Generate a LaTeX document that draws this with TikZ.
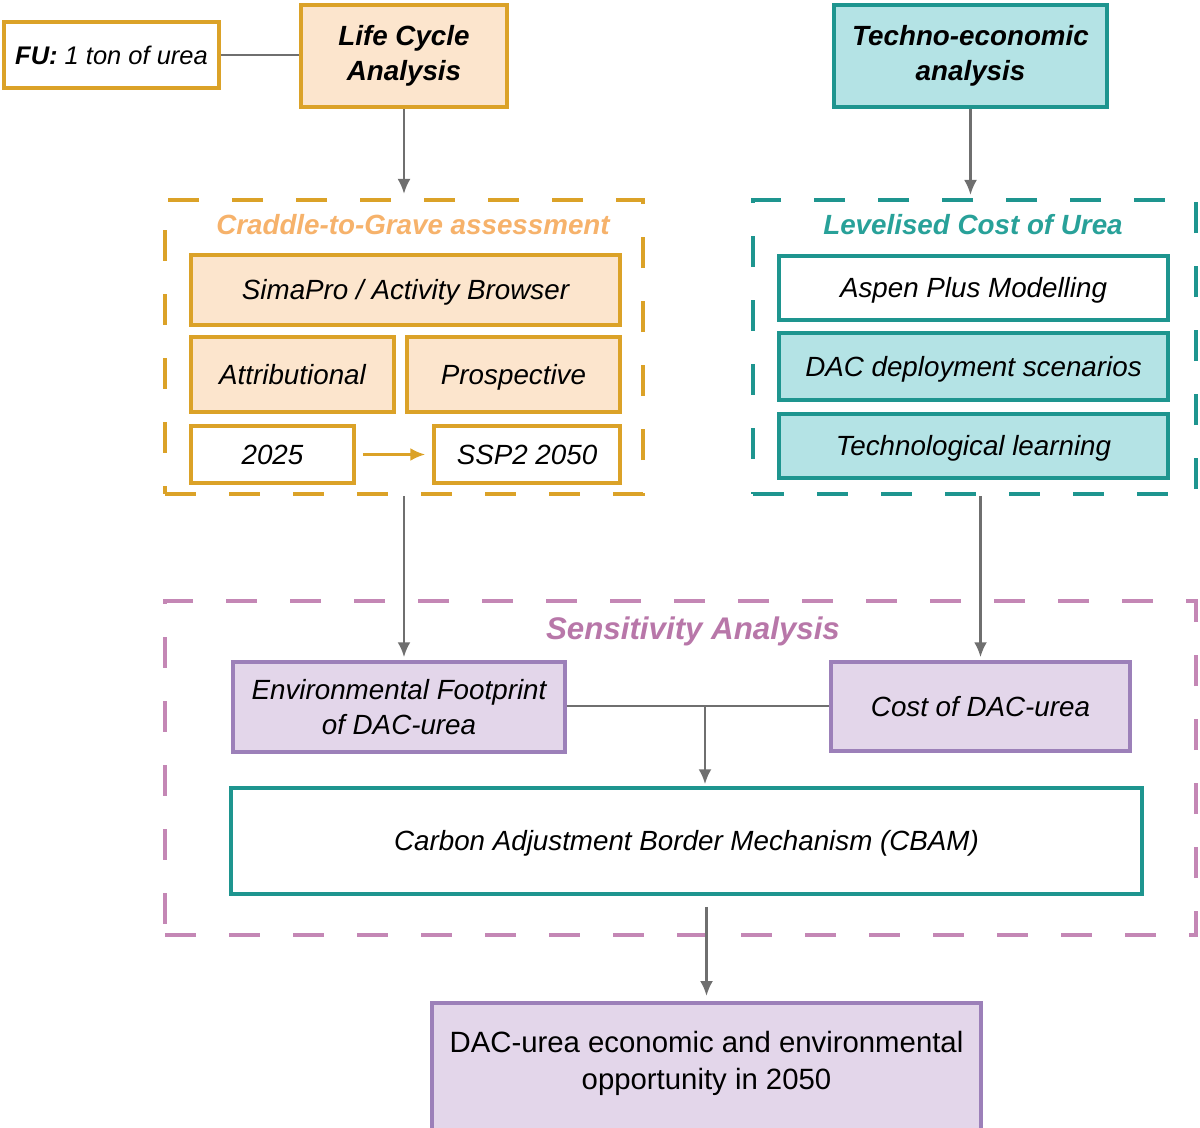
\documentclass[tikz,border=0pt]{standalone}
\usepackage{fontspec}
\setmainfont{Liberation Sans}
\usepackage{xcolor}
\usetikzlibrary{positioning,calc,arrows.meta}

\definecolor{lcaline}{HTML}{DBA228}
\definecolor{lcafill}{HTML}{FCE5CD}
\definecolor{lcatitle}{HTML}{F6B26B}
\definecolor{tealline}{HTML}{1E958F}
\definecolor{tealfill}{HTML}{B4E3E5}
\definecolor{tealtitle}{HTML}{28A199}
\definecolor{purpleline}{HTML}{9C80B9}
\definecolor{purplefill}{HTML}{E3D6EA}
\definecolor{sensline}{HTML}{C487B5}
\definecolor{senstitle}{HTML}{B877A9}
\definecolor{arrowgray}{HTML}{6F6F6F}

\newcommand{\boxfont}{\fontsize{15.8pt}{20pt}\selectfont}

\begin{document}
\begin{tikzpicture}[
    scale=1,
    lcabox/.style={draw=lcaline, fill=lcafill, line width=2pt, inner sep=1pt, align=center, font=\boxfont\itshape},
    lcawhite/.style={lcabox, fill=white},
    teabox/.style={draw=tealline, fill=tealfill, line width=2pt, inner sep=1pt, align=center, font=\boxfont\itshape},
    teawhite/.style={teabox, fill=white},
    purplebox/.style={draw=purpleline, fill=purplefill, line width=2pt, inner sep=1pt, align=center, font=\boxfont\itshape},
    single/.style={text height=12pt, text depth=0.7pt},
    frame/.style={line width=2.3pt, dash pattern=on 0.62cm off 0.66cm, minimum width=#1},
    frametitle/.style={font=\boxfont\bfseries\itshape},
    flow/.style={draw=arrowgray, line width=1.5pt, -{Latex[length=0.3cm,width=0.26cm]}},
    link/.style={draw=arrowgray, line width=1.5pt}
]
    \useasboundingbox (0,0) rectangle (24,-22.54);

    % LCA branch
    \node[lcawhite, single, minimum width=4.30cm, minimum height=1.32cm, font=\fontsize{14.5pt}{18pt}\selectfont\itshape] (fu) at (2.23,-1.10) {\textbf{FU:} 1 ton of urea};
    \node[lcabox, minimum width=4.12cm, minimum height=2.04cm, font=\boxfont\bfseries\itshape] (lca) at (8.08,-1.12) {Life Cycle\\Analysis};
    \node[frame=9.56cm, draw=lcaline, minimum height=5.88cm] (craddle) at (8.08,-6.94) {};
    \node[frametitle, single, text=lcatitle] (craddletitle) at (8.26,-4.50) {Craddle-to-Grave assessment};
    \node[lcabox, single, minimum width=8.58cm, minimum height=1.40cm] (simapro) at (8.11,-5.80) {SimaPro / Activity Browser};
    \node[lcabox, single, minimum width=4.06cm, minimum height=1.50cm] (attrib) at (5.85,-7.49) {Attributional};
    \node[lcabox, single, minimum width=4.26cm, minimum height=1.50cm] (prosp) at (10.27,-7.49) {Prospective};
    \node[lcawhite, single, minimum width=3.26cm, minimum height=1.14cm] (now) at (5.45,-9.09) {2025};
    \node[lcawhite, single, minimum width=3.72cm, minimum height=1.14cm] (ssp) at (10.54,-9.09) {SSP2 2050};

    % TEA branch
    \node[teabox, minimum width=5.46cm, minimum height=2.04cm, font=\boxfont\bfseries\itshape] (tea) at (19.41,-1.12) {Techno-economic\\analysis};
    \node[frame=8.86cm, draw=tealline, minimum height=5.88cm] (lcu) at (19.49,-6.94) {};
    \node[frametitle, single, text=tealtitle] (lcutitle) at (19.46,-4.50) {Levelised Cost of Urea};
    \node[teawhite, single, minimum width=7.78cm, minimum height=1.28cm] (aspen) at (19.47,-5.76) {Aspen Plus Modelling};
    \node[teabox, single, minimum width=7.78cm, minimum height=1.34cm] (dacdep) at (19.47,-7.33) {DAC deployment scenarios};
    \node[teabox, single, minimum width=7.78cm, minimum height=1.28cm] (learning) at (19.47,-8.92) {Technological learning};

    % Sensitivity
    \node[frame=20.62cm, draw=sensline, minimum height=6.68cm] (sens) at (13.61,-15.36) {};
    \node[frametitle, text=senstitle, font=\fontsize{17.8pt}{21pt}\selectfont\bfseries\itshape, text height=13.5pt, text depth=0.7pt] (senstitle) at (13.86,-12.56) {Sensitivity Analysis};
    \node[purplebox, minimum width=6.64cm, minimum height=1.80cm] (env) at (7.98,-14.14) {Environmental Footprint\\of DAC-urea};
    \node[purplebox, single, minimum width=5.98cm, minimum height=1.78cm] (cost) at (19.61,-14.13) {Cost of DAC-urea};
    \node[teawhite, single, minimum width=18.22cm, minimum height=2.12cm] (cbam) at (13.73,-16.82) {Carbon Adjustment Border Mechanism (CBAM)};

    % Outcome
    \node[purplebox, minimum width=10.98cm, minimum height=2.9cm, anchor=north] (opportunity) at (14.13,-20.02) {};
    \node[align=center, font=\fontsize{16.7pt}{21pt}\selectfont] (opptext) at (14.13,-21.27) {DAC-urea economic and environmental\\opportunity in 2050};

    % Connectors
    \draw[link] (fu.east) -- (lca.west |- fu.east);
    \draw[flow, shorten >=0.08cm] (lca.south) -- (craddle.north);
    \draw[flow, shorten >=0.06cm] (tea.south) -- (tea.south |- lcu.north);
    \draw[-{Latex[length=0.3cm,width=0.26cm]}, draw=lcaline, fill=lcaline, line width=1.5pt, shorten <=0.14cm, shorten >=0.14cm] (now.east) -- (ssp.west);
    \draw[flow, shorten >=0.06cm] (craddle.south) -- (craddle.south |- env.north);
    \draw[flow, shorten >=0.06cm] (cost.north |- lcu.south) -- (cost.north);
    \coordinate (merge) at (14.10,-14.12);
    \draw[link] (env.east |- merge) -- (cost.west |- merge);
    \draw[flow, shorten >=0.04cm] (merge) -- (merge |- cbam.north);
    \draw[flow, shorten <=0.22cm, shorten >=0.1cm] (opportunity.north |- cbam.south) -- (opportunity.north);
\end{tikzpicture}
\end{document}
